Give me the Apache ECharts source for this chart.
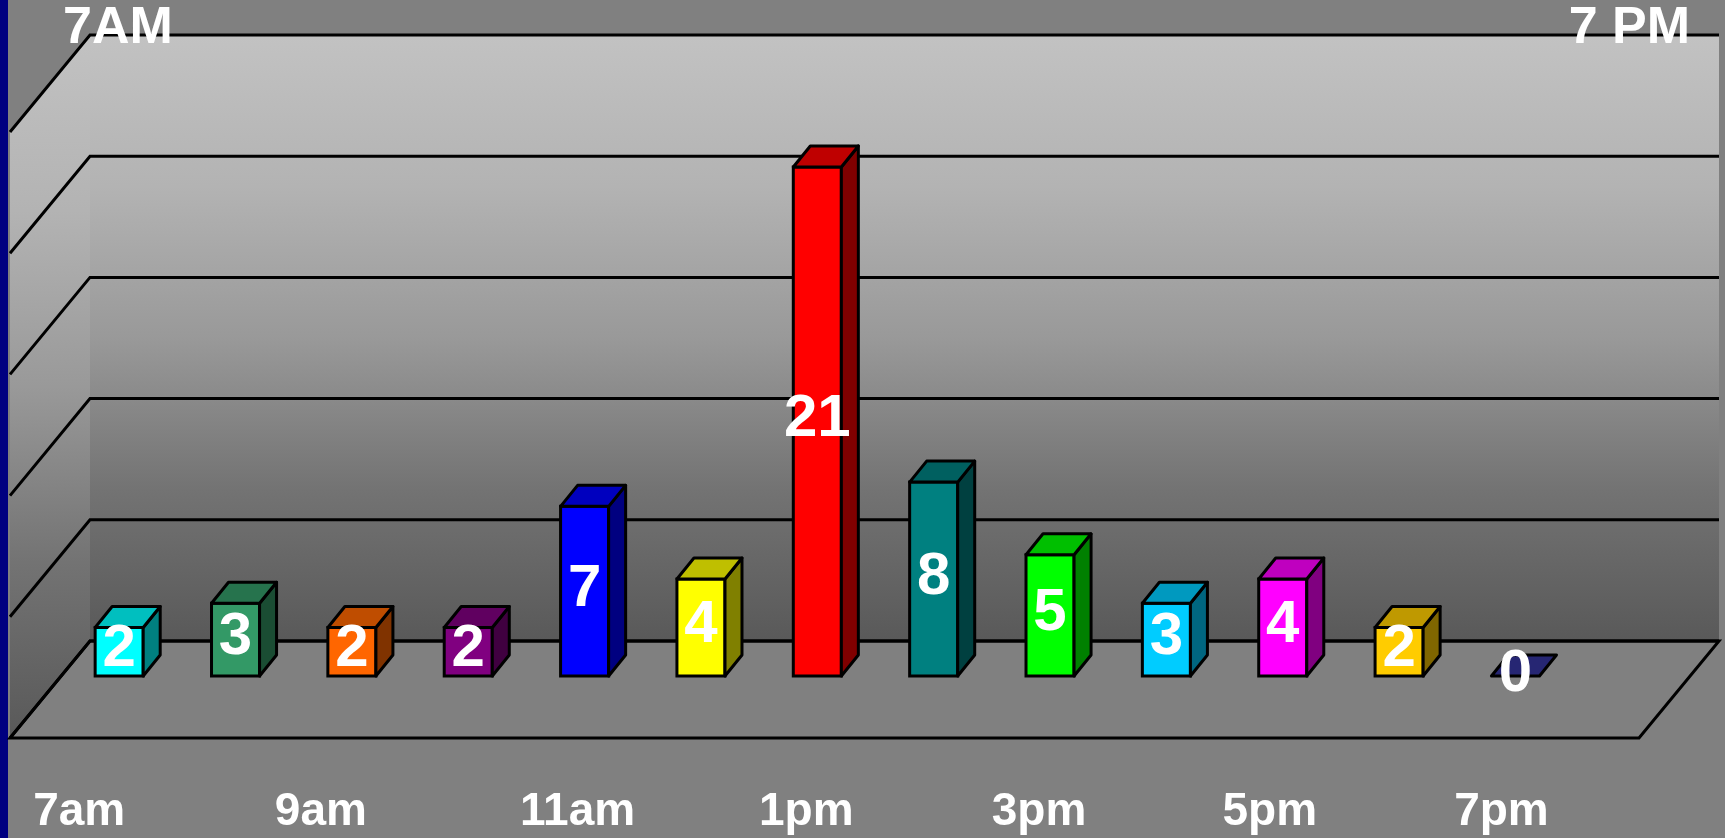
<!DOCTYPE html>
<html>
<head>
<meta charset="utf-8">
<title>Calls per hour</title>
<script src="https://cdn.jsdelivr.net/npm/echarts@6/dist/echarts.min.js"></script>
<style>
  html, body { margin: 0; padding: 0; background: #808080; }
  #chart { width: 1725px; height: 838px; }
</style>
</head>
<body>
<div id="chart"></div>
<script>
// hourly counts 7am..7pm, the last slot is the empty end of the floor
const hours = ['7am', '8am', '9am', '10am', '11am', '12pm', '1pm', '2pm', '3pm', '4pm', '5pm', '6pm', '7pm', '8pm'];
const counts = [2, 3, 2, 2, 7, 4, 21, 8, 5, 3, 4, 2, 0, null];
const barColors = ['#00FFFF', '#339966', '#FF6600', '#800080', '#0000FF', '#FFFF00', '#FF0000',
  '#008080', '#00FF00', '#00CCFF', '#FF00FF', '#FFCC00', '#333399'];
const yTicks = [0, 5, 10, 15, 20, 25];

// fake 3d: offsets from the bar plane
const WALL_DX = 29, WALL_DY = -35   // to back wall
const FRONT_DX = -51, FRONT_DY = 62 // to front edge of floor
const BAR_DX = 17, BAR_DY = -21     // depth of a bar
const LINE = 3
// axis labels are not quite centred under their bars
const labelShift = { '7am': -40, '9am': -31, '11am': -7, '1pm': -11, '3pm': -11, '5pm': -13, '7pm': -14 }
const FONT = '"Liberation Sans", Arial, sans-serif'

function shade(hex, k) {
  const n = parseInt(hex.slice(1), 16)
  const r = Math.round(((n >> 16) & 255) * k)
  const g = Math.round(((n >> 8) & 255) * k)
  const b = Math.round((n & 255) * k)
  return 'rgb(' + r + ',' + g + ',' + b + ')'
}

function wallGradient() {
  return new echarts.graphic.LinearGradient(0, 0, 0, 1, [
    { offset: 0, color: '#c2c2c2' },
    { offset: 0.25, color: '#b3b3b3' },
    { offset: 0.5, color: '#999999' },
    { offset: 0.75, color: '#737373' },
    { offset: 1, color: '#595959' }
  ])
}

function renderWalls(params, api) {
  const cs = params.coordSys
  const left = cs.x
  const right = cs.x + cs.width
  const base = api.coord([0, 0])[1]
  const top = api.coord([0, yTicks[yTicks.length - 1]])[1]
  const children = []
  // back wall
  children.push({
    type: 'rect',
    shape: { x: left + WALL_DX, y: top + WALL_DY, width: right - left, height: base - top },
    style: { fill: wallGradient() }
  })
  // side wall
  children.push({
    type: 'polygon',
    shape: { points: [[left + WALL_DX, top + WALL_DY], [left + WALL_DX, base + WALL_DY],
      [left + FRONT_DX, base + FRONT_DY], [left + FRONT_DX, top + FRONT_DY]] },
    style: { fill: wallGradient() }
  })
  // floor
  children.push({
    type: 'polygon',
    shape: { points: [[left + WALL_DX, base + WALL_DY], [right + WALL_DX, base + WALL_DY],
      [right + FRONT_DX, base + FRONT_DY], [left + FRONT_DX, base + FRONT_DY]] },
    style: { fill: '#808080', stroke: '#000', lineWidth: LINE }
  })
  // grid lines on side + back wall
  yTicks.forEach(function (v) {
    const y = api.coord([0, v])[1]
    children.push({
      type: 'polyline',
      shape: { points: [[left + FRONT_DX, y + FRONT_DY], [left + WALL_DX, y + WALL_DY], [right + WALL_DX, y + WALL_DY]] },
      style: { stroke: '#000', lineWidth: LINE, fill: null }
    })
  })
  return { type: 'group', children: children }
}

function renderBar(params, api) {
  const i = api.value(0)
  const v = api.value(1)
  if (isNaN(v)) return
  const w = api.size([1, 0])[0] * 0.413
  const p = api.coord([i, v])
  const cx = p[0], yt = p[1]
  const yb = api.coord([i, 0])[1]
  const x0 = cx - w / 2, x1 = cx + w / 2
  const color = barColors[i]
  const children = []
  if (v > 0) {
    children.push({
      type: 'rect',
      shape: { x: x0, y: yt, width: w, height: yb - yt },
      style: { fill: color, stroke: '#000', lineWidth: LINE }
    })
    children.push({
      type: 'polygon',
      shape: { points: [[x1, yt], [x1 + BAR_DX, yt + BAR_DY], [x1 + BAR_DX, yb + BAR_DY], [x1, yb]] },
      style: { fill: shade(color, 0.5), stroke: '#000', lineWidth: LINE, lineJoin: 'round' }
    })
  }
  children.push({
    type: 'polygon',
    shape: { points: [[x0, yt], [x1, yt], [x1 + BAR_DX, yt + BAR_DY], [x0 + BAR_DX, yt + BAR_DY]] },
    style: { fill: shade(color, 0.75), stroke: '#000', lineWidth: LINE, lineJoin: 'round' }
  })
  children.push({
    type: 'text',
    style: {
      text: String(v), x: cx, y: (yt + yb) / 2 - 2,
      fill: '#fff', font: 'bold 60px ' + FONT,
      align: 'center', verticalAlign: 'middle', textAlign: 'center', textVerticalAlign: 'middle'
    }
  })
  return { type: 'group', children: children }
}

const labelRich = {}
Object.keys(labelShift).forEach(function (k, idx) {
  labelRich['l' + idx] = {
    color: '#fff', fontFamily: FONT, fontWeight: 'bold', fontSize: 46,
    padding: [0, -2 * labelShift[k], 0, 0]
  }
})
const labelKeys = Object.keys(labelShift)

const chart = echarts.init(document.getElementById('chart'))
chart.setOption({
  backgroundColor: '#808080',
  animation: false,
  title: [
    { text: '7AM', left: 63, top: 3, padding: 0,
      textStyle: { color: '#fff', fontFamily: FONT, fontWeight: 'bold', fontSize: 52 } },
    { text: '7 PM', right: 35, top: 3, padding: 0,
      textStyle: { color: '#fff', fontFamily: FONT, fontWeight: 'bold', fontSize: 52 } }
  ],
  graphic: [
    { type: 'rect', left: 0, top: 0, shape: { width: 8, height: 838 }, style: { fill: '#000080' } }
  ],
  grid: { left: 61, right: 35, top: 70, bottom: 162, containLabel: false },
  xAxis: {
    type: 'category',
    data: hours,
    boundaryGap: true,
    axisLine: { show: false },
    axisTick: { show: false },
    splitLine: { show: false },
    axisLabel: {
      interval: 1,
      margin: 113,
      color: '#fff',
      fontFamily: FONT,
      fontWeight: 'bold',
      fontSize: 46,
      formatter: function (val) {
        const k = labelKeys.indexOf(val)
        return k < 0 ? val : '{l' + k + '|' + val + '}'
      },
      rich: labelRich
    }
  },
  yAxis: { type: 'value', min: 0, max: 25, interval: 5, show: false },
  series: [
    {
      type: 'custom',
      renderItem: renderWalls,
      data: [[0, 0]],
      clip: false,
      silent: true,
      z: 1
    },
    {
      type: 'custom',
      renderItem: renderBar,
      data: counts.map(function (v, i) { return [i, v == null ? NaN : v] }),
      encode: { x: 0, y: 1 },
      clip: false,
      z: 2
    }
  ]
})
</script>
</body>
</html>
